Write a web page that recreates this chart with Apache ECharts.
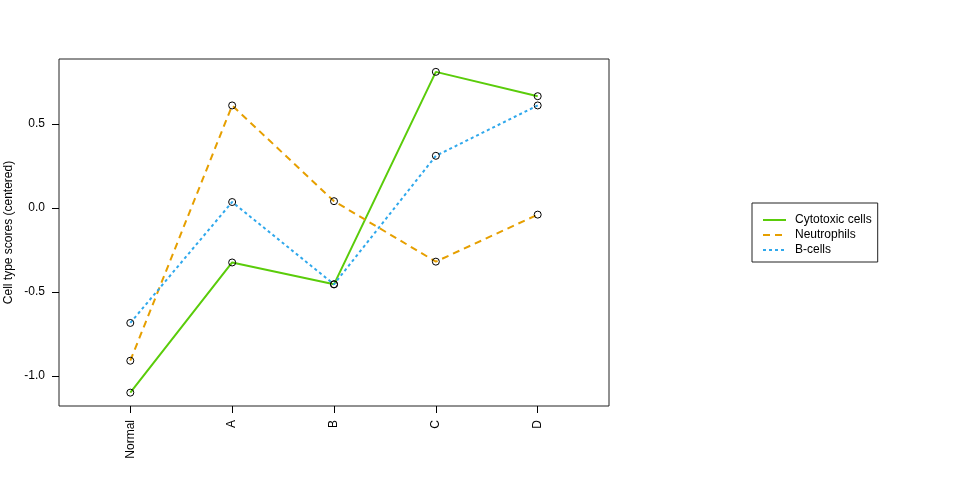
<!DOCTYPE html>
<html>
<head>
<meta charset="utf-8">
<script src="https://cdn.jsdelivr.net/npm/echarts@6/dist/echarts.min.js"></script>
<style>
html,body{margin:0;padding:0;background:#fff;}
#chart{width:960px;height:480px;}
</style>
</head>
<body>
<div id="chart"></div>
<script>
const categories = ['Normal', 'A', 'B', 'C', 'D'];
const seriesNames = ['Cytotoxic cells', 'Neutrophils', 'B-cells'];
const cytotoxic = [-1.10, -0.325, -0.455, 0.81, 0.665];
const neutrophils = [-0.91, 0.61, 0.04, -0.32, -0.04];
const bcells = [-0.685, 0.035, -0.455, 0.31, 0.61];
const yTicks = [-1.0, -0.5, 0.0, 0.5];

const FONT = 'Liberation Sans, Arial, sans-serif';
const colors = ['#5ACC0A', '#E69F00', '#2FA8EC'];
const dashes = ['solid', [7, 5], [3, 3]];
const allSeries = [cytotoxic, neutrophils, bcells];

const chart = echarts.init(document.getElementById('chart'), null, {renderer: 'canvas'});

const series = allSeries.map((vals, k) => ({
  name: seriesNames[k],
  type: 'line',
  data: vals.map((v, i) => [i, v]),
  symbol: 'circle',
  symbolSize: 7,
  showSymbol: true,
  animation: false,
  color: colors[k],
  lineStyle: {color: colors[k], width: 2, type: dashes[k]},
  itemStyle: {color: 'rgba(255,255,255,0)', borderColor: '#000', borderWidth: 1},
  emphasis: {disabled: true},
  z: 2 + k
}));

chart.setOption({
  backgroundColor: '#fff',
  animation: false,
  textStyle: {fontFamily: FONT},
  grid: {left: 59, right: 351, top: 59, bottom: 74, show: true, borderColor: '#222', borderWidth: 1,
         backgroundColor: 'transparent', containLabel: false, outerBoundsMode: 'none'},
  legend: {
    orient: 'vertical',
    left: 752,
    top: 203,
    padding: [11, 6, 6, 10],
    itemWidth: 23,
    itemHeight: 10,
    itemGap: 3,
    borderColor: '#222',
    borderWidth: 1,
    borderRadius: 0,
    itemStyle: {opacity: 0},
    textStyle: {fontFamily: FONT, fontSize: 12, color: '#000', padding: [0, 0, 0, 4]},
    data: seriesNames
  },
  xAxis: {
    type: 'value',
    min: -0.7,
    max: 4.7,
    splitLine: {show: false},
    axisLine: {show: false, onZero: false},
    axisTick: {show: true, length: 7, lineStyle: {color: '#000'}, customValues: categories.map((c, i) => i)},
    axisLabel: {
      show: true,
      rotate: 90,
      margin: 14,
      fontFamily: FONT,
      fontSize: 12,
      color: '#000',
      customValues: categories.map((c, i) => i),
      formatter: v => categories[Math.round(v)] || ''
    }
  },
  yAxis: {
    type: 'value',
    min: -1.1795,
    max: 0.8865,
    name: 'Cell type scores (centered)',
    nameLocation: 'middle',
    nameGap: 44,
    nameMoveOverlap: false,
    nameTextStyle: {fontFamily: FONT, fontSize: 12, color: '#000'},
    splitLine: {show: false},
    axisLine: {show: false, onZero: false},
    axisTick: {show: true, length: 7, lineStyle: {color: '#000'}, customValues: yTicks},
    axisLabel: {
      show: true,
      margin: 14,
      fontFamily: FONT,
      fontSize: 12,
      color: '#000',
      customValues: yTicks,
      formatter: v => v.toFixed(1)
    }
  },
  series: series
});
</script>
</body>
</html>
